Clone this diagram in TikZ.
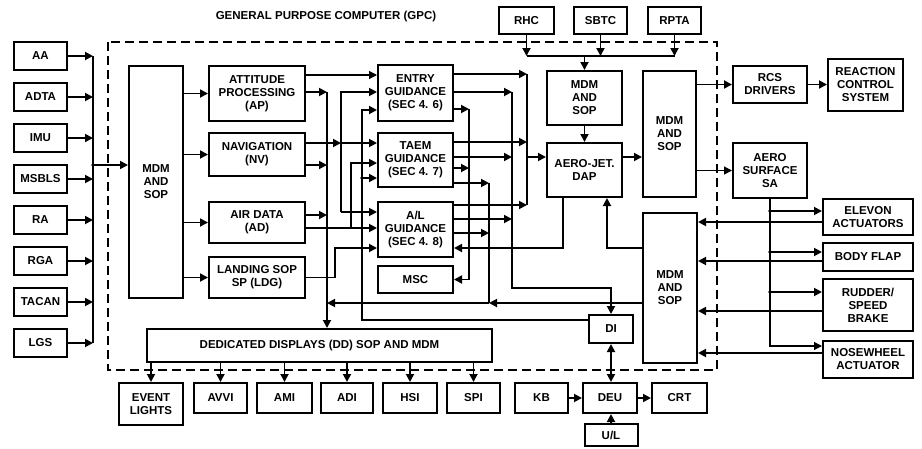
\documentclass[tikz,border=0pt]{standalone}
\usepackage{fontspec}
\setmainfont{Liberation Sans}
\usetikzlibrary{arrows.meta}
\tikzstyle{box} = [draw, line width=2pt, inner sep=1pt, align=center, font=\bfseries\fontsize{11.5}{13}\selectfont]
\tikzstyle{wire} = [line width=1.8pt]
\tikzstyle{thin wire} = [line width=1.2pt]
\tikzstyle{arr} = [-{Triangle[length=8pt,width=8pt]}]
\tikzstyle{arrb} = [{Triangle[length=8pt,width=8pt]}-{Triangle[length=8pt,width=8pt]}]
\tikzstyle{dot} = [fill, circle, inner sep=1.4pt]
\tikzstyle{gpc} = [dash pattern=on 9pt off 5pt, line width=1.8pt]
\tikzset{sz/.style 2 args={minimum width=#1pt, minimum height=#2pt}}

\begin{document}
\begin{tikzpicture}[x=1pt,y=-1pt]
\useasboundingbox (0,0) rectangle (922,448);
\node[font=\bfseries\fontsize{11.5}{13}\selectfont] (title) at (326,17) {GENERAL PURPOSE COMPUTER (GPC)};
\draw[gpc] (108,42) rectangle (717,370);

\node[box,sz={53}{28}] (aa) at (40.5,56) {AA};
\node[box,sz={53}{28},below of=aa,node distance=41pt]    (adta)  {ADTA};
\node[box,sz={53}{28},below of=adta,node distance=41pt]  (imu)   {IMU};
\node[box,sz={53}{28},below of=imu,node distance=41pt]   (msbls) {MSBLS};
\node[box,sz={53}{28},below of=msbls,node distance=41pt] (ra)    {RA};
\node[box,sz={53}{28},below of=ra,node distance=41pt]    (rga)   {RGA};
\node[box,sz={53}{28},below of=rga,node distance=41pt]   (tacan) {TACAN};
\node[box,sz={53}{28},below of=tacan,node distance=41pt] (lgs)   {LGS};

\node[box,sz={54}{232}] (mdm1) at (156,182) {MDM\\AND\\SOP};
\node[box,sz={96}{55}] (ap)  at (257,93.5)  {ATTITUDE\\PROCESSING\\(AP)};
\node[box,sz={96}{43}] (nv)  at (257,154.5) {NAVIGATION\\(NV)};
\node[box,sz={96}{41}] (ad)  at (257,222.5) {AIR DATA\\(AD)};
\node[box,sz={96}{41}] (ldg) at (257,277.5) {LANDING SOP\\SP (LDG)};

\node[box,sz={75}{56}] (entry) at (415.5,93)    {ENTRY\\GUIDANCE\\(SEC 4. 6)};
\node[box,sz={75}{54}] (taem)  at (415.5,160)   {TAEM\\GUIDANCE\\(SEC 4. 7)};
\node[box,sz={75}{55}] (al)    at (415.5,229.5) {A/L\\GUIDANCE\\(SEC 4. 8)};
\node[box,sz={75}{27}] (msc)   at (415.5,279.5) {MSC};

\node[box,sz={55}{27}] (rhc)  at (526.5,20.5) {RHC};
\node[box,sz={53}{27}] (sbtc) at (600.5,20.5) {SBTC};
\node[box,sz={53}{27}] (rpta) at (674.5,20.5) {RPTA};

\node[box,sz={75}{54}]  (mdm2) at (584.5,98)  {MDM\\AND\\SOP};
\node[box,sz={75}{54}]  (dap)  at (584.5,170) {AERO-JET.\\DAP};
\node[box,sz={53}{126}] (mdm3) at (669.5,134) {MDM\\AND\\SOP};
\node[box,sz={54}{150}] (mdm4) at (670,288)   {MDM\\AND\\SOP};

\node[box,sz={74}{37}] (rcs)   at (770,84.5)  {RCS\\DRIVERS};
\node[box,sz={75}{52}] (rcsys) at (865.5,85)  {REACTION\\CONTROL\\SYSTEM};
\node[box,sz={74}{55}] (sa)    at (770,170.5) {AERO\\SURFACE\\SA};
\node[box,sz={90}{36}] (elev)  at (868,217)   {ELEVON\\ACTUATORS};
\node[box,sz={90}{28}] (flap)  at (868,257)   {BODY FLAP};
\node[box,sz={90}{52}] (rud)   at (868,305)   {RUDDER/\\SPEED\\BRAKE};
\node[box,sz={90}{37}] (nose)  at (868,359.5) {NOSEWHEEL\\ACTUATOR};

\node[box,sz={345}{33}] (dd) at (319.5,345.5) {DEDICATED DISPLAYS (DD) SOP AND MDM};
\node[box,sz={64}{42}] (ev)   at (151,404)   {EVENT\\LIGHTS};
\node[box,sz={53}{30}] (avvi) at (220.5,398) {AVVI};
\node[box,sz={55}{30}] (ami)  at (284.5,398) {AMI};
\node[box,sz={52}{30}] (adi)  at (347,398)   {ADI};
\node[box,sz={54}{30}] (hsi)  at (410,398)   {HSI};
\node[box,sz={53}{30}] (spi)  at (473.5,398) {SPI};
\node[box,sz={53}{30}] (kb)   at (541.5,398) {KB};
\node[box,sz={54}{30}] (deu)  at (610,398)   {DEU};
\node[box,sz={55}{30}] (crt)  at (679.5,398) {CRT};
\node[box,sz={53}{22}] (ul)   at (611,435)   {U/L};
\node[box,sz={44}{28}] (di)   at (611,329)   {DI};

\coordinate (lbus) at (93,165);
\coordinate (busa) at (327,0);
\coordinate (busl) at (335,0);
\coordinate (busb) at (341,0);
\coordinate (busc) at (351,0);
\coordinate (busd) at (362,0);
\coordinate (busg) at (469,0);
\coordinate (bush) at (489,0);
\coordinate (busf) at (512,0);
\coordinate (buse) at (527,0);
\coordinate (dapl) at (563,0);
\coordinate (dapr) at (607,0);

\foreach \s in {aa,adta,imu,msbls,ra,rga,tacan,lgs}
  \draw[wire,arr] (\s.east) -- (\s.east -| lbus);
\draw[wire] (aa.east -| lbus) -- (lgs.east -| lbus);
\node[dot] at (lbus) {};
\draw[wire,arr] (lbus) -- (lbus -| mdm1.west);
\foreach \b in {ap,nv,ad,ldg}
  \draw[wire,arr] (mdm1.east |- \b.west) -- (\b.west);

\draw[thin wire,arr] (ap.east |- 0,75) -- (entry.west |- 0,75);
\foreach \b/\y in {ap/92,nv/165,ad/215}
  \draw[wire,arr] (\b.east |- 0,\y) -- (busa |- 0,\y);
\draw[wire,arr] (busa |- 0,92) -- (busa |- dd.north);
\draw[wire,arr] (nv.east |- 0,143) -- (busb |- 0,143);
\draw[wire,arr] (busb |- 0,143) -- (taem.west |- 0,143);
\draw[wire,arr] (busb |- 0,212) |- (entry.west |- 0,92);
\draw[wire,arr] (busb |- 0,212) -- (al.west |- 0,212);
\draw[wire,arr] (ad.east |- 0,228) -- (al.west |- 0,228);
\draw[wire,arr] (busc |- 0,228) |- (taem.west |- 0,163);
\draw[wire,arr] (di.west |- 0,320) -- (busd |- 0,320) |- (entry.west |- 0,110);
\node[dot] at (busd |- 0,178) {};
\draw[wire,arr] (busd |- 0,178) -- (taem.west |- 0,178);
\draw[wire,arr] (ldg.east) -| (busl |- 0,248) -- (al.west |- 0,248);

\foreach \b/\y in {entry/74,taem/142,al/205}
  \draw[wire,arr] (\b.east |- 0,\y) -- (buse |- 0,\y);
\draw[wire] (buse |- 0,74) -- (buse |- 0,205);
\draw[wire,arr] (buse |- 0,157) -- (dap.west |- 0,157);
\foreach \b/\y in {entry/92,taem/157,al/219}
  \draw[wire,arr] (\b.east |- 0,\y) -- (busf |- 0,\y);
\draw[wire,arr] (busf |- 0,92) |- (di.north |- 0,288) -- (di.north);
\foreach \b/\y in {entry/109,taem/168}
  \draw[wire,arr] (\b.east |- 0,\y) -- (busg |- 0,\y);
\draw[wire,arr] (busg |- 0,109) |- (msc.east);
\foreach \b/\y in {taem/183,al/233}
  \draw[wire,arr] (\b.east |- 0,\y) -- (bush |- 0,\y);
\draw[wire] (bush |- 0,183) -- (bush |- 0,303);
\draw[wire,arr] (mdm4.west |- 0,303) -- (bush |- 0,303);
\draw[wire,arr] (bush |- 0,303) -- (busa |- 0,303);
\draw[wire,arr] (dapl |- dap.south) -- (dapl |- 0,248) -- (al.east |- 0,248);
\draw[wire,arr] (mdm4.west |- 0,248) -| (dapr |- dap.south);

\foreach \t in {rhc,sbtc,rpta}
  \draw[wire,arr] (\t.south) -- (\t.south |- 0,56);
\draw[wire] (rhc.south |- 0,56) -- (rpta.south |- 0,56);
\draw[wire,arr] (mdm2.north |- 0,56) -- (mdm2.north);
\draw[wire,arr] (mdm2.south) -- (dap.north);
\draw[wire,arr] (dap.east |- 0,157) -- (mdm3.west |- 0,157);
\draw[wire,arr] (mdm3.east |- rcs.west) -- (rcs.west);
\draw[thin wire,arr] (mdm3.east |- sa.west) -- (sa.west);
\draw[wire,arr] (rcs.east) -- (rcs.east -| rcsys.west);

\draw[thin wire,arr] (sa.south) |- (nose.west |- 0,346);
\foreach \b/\y in {elev/211,flap/252,rud/292} {
  \node[dot] at (sa.south |- 0,\y) {};
  \draw[wire,arr] (sa.south |- 0,\y) -- (\b.west |- 0,\y);
}
\foreach \b/\y in {elev/222,flap/261,rud/311,nose/353}
  \draw[wire,arr] (\b.west |- 0,\y) -- (mdm4.east |- 0,\y);

\foreach \b in {ev,avvi,ami,adi,hsi,spi}
  \draw[wire,arr] (dd.south -| \b.north) -- (\b.north);
\draw[wire,arrb] (di.south) -- (di.south |- deu.north);
\draw[wire,arr] (kb.east) -- (deu.west);
\draw[wire,arr] (deu.east) -- (crt.west);
\draw[wire,arr] (ul.north) -- (ul.north |- deu.south);
\end{tikzpicture}
\end{document}
